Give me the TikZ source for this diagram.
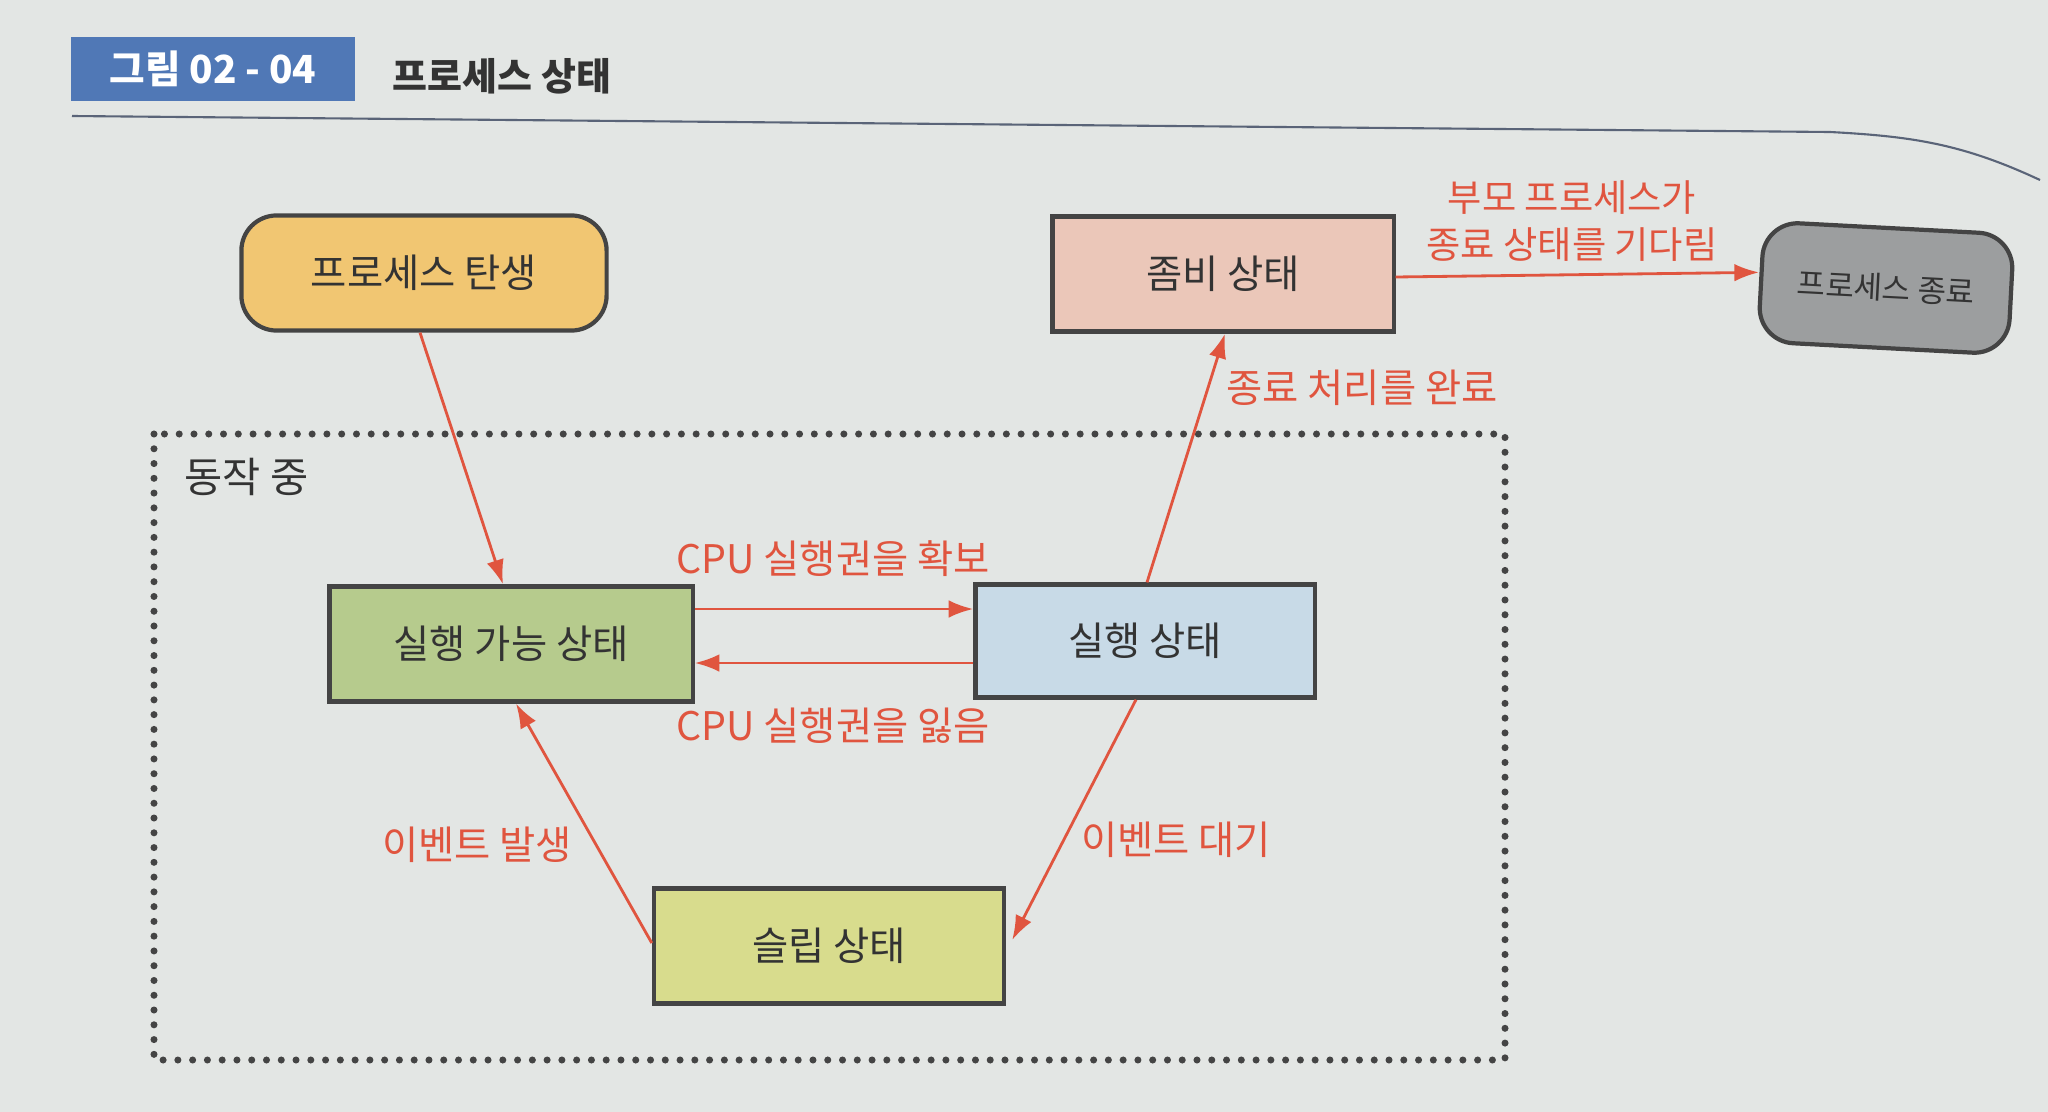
\documentclass[tikz,border=0pt]{standalone}
\usepackage{fontspec}
\setmainfont{Noto Sans CJK KR}
\usetikzlibrary{calc,arrows.meta}
\definecolor{bgc}{HTML}{E3E6E4}
\definecolor{redc}{HTML}{E0553F}
\definecolor{txtc}{HTML}{333333}
\definecolor{edgec}{HTML}{444444}
\definecolor{birthc}{HTML}{F1C672}
\definecolor{zombiec}{HTML}{EBC7B9}
\definecolor{endc}{HTML}{9C9E9F}
\definecolor{runnablec}{HTML}{B6CB8D}
\definecolor{runningc}{HTML}{C8DAE7}
\definecolor{sleepc}{HTML}{D8DC8D}
\definecolor{bluec}{HTML}{5078B6}
\definecolor{rulec}{HTML}{5A6478}
\tikzset{
  statebox/.style={draw=edgec, line width=1.2pt, text=txtc, font=\fontsize{11.2}{13}\selectfont, inner sep=0pt},
  redarrow/.style={draw=redc, line width=0.8pt, -{Latex[length=7pt,width=5pt]}},
  redlabel/.style={text=redc, font=\fontsize{11.2}{13.5}\selectfont, inner sep=0pt, align=center},
}
\begin{document}
\begin{tikzpicture}[x=0.01cm,y=-0.01cm]
\fill[bgc] (0,0) rectangle (2048,1112);
\useasboundingbox (0,0) rectangle (2048,1112);
% title
\node[fill=bluec, minimum width=2.83cm, minimum height=0.63cm, inner sep=0pt, text=white, font=\fontsize{11}{12}\selectfont\bfseries] (tbox) at (213,69) {그림 02 - 04};
\node[anchor=west, text=txtc, font=\fontsize{10.8}{12}\selectfont\bfseries, inner sep=0pt] (title) at (392,76) {프로세스 상태};
\coordinate (hl1) at (72,116);
\coordinate (hl2) at (1830,132);
\coordinate (hl3) at (2040,180);
\draw[rulec, line width=0.6pt] (hl1) -- (hl2) to[out=-3,in=155] (hl3);
% dotted region
\draw[edgec, line width=2pt, line cap=round, dash pattern=on 0pt off 4.2pt] (154,434) rectangle (1505,1060);
\node[anchor=west, text=txtc, font=\fontsize{11.8}{13}\selectfont, inner sep=0pt] (active) at (184,477) {동작 중};
% nodes
\node[statebox, fill=birthc, rounded corners=10pt, minimum width=3.65cm, minimum height=1.15cm] (birth) at (424,273) {프로세스 탄생};
\node[statebox, fill=zombiec, minimum width=3.41cm, minimum height=1.15cm] (zombie) at (1223,274) {좀비 상태};
\node[statebox, fill=endc, rounded corners=10pt, minimum width=2.5cm, minimum height=1.2cm, rotate=-3, font=\fontsize{8.8}{10}\selectfont] (endp) at (1886,288) {프로세스 종료};
\node[statebox, fill=runnablec, minimum width=3.63cm, minimum height=1.15cm] (runnable) at (511,644) {실행 가능 상태};
\node[statebox, fill=runningc, minimum width=3.39cm, minimum height=1.13cm] (running) at (1145,641) {실행 상태};
\node[statebox, fill=sleepc, minimum width=3.5cm, minimum height=1.15cm] (sleep) at (829,946) {슬립 상태};
% arrows
\draw[redarrow] ($(birth.south)+(-4,0)$) -- ($(runnable.north)+(-8,0)$);
\draw[redarrow] ($(runnable.east)+(0,-35)$) -- ($(running.west)+(0,-32)$);
\draw[redarrow] ($(running.west)+(0,22)$) -- ($(runnable.east)+(0,19)$);
\draw[redarrow] ($(running.north)+(2,0)$) -- ($(zombie.south)+(2,0)$);
\draw[redarrow] ($(running.south)+(-9,0)$) -- ($(sleep.east)+(6,-6)$);
\draw[redarrow] ($(sleep.west)+(0,-3)$) -- ($(runnable.south)+(5,0)$);
\draw[redarrow] ($(zombie.east)+(0,3)$) -- ($(endp.west)+(0,-9)$);
% labels
\node[redlabel] (l1) at (833,559) {CPU 실행권을 확보};
\node[redlabel] (l2) at (833,726) {CPU 실행권을 잃음};
\node[redlabel] (l3) at (1362,388) {종료 처리를 완료};
\node[redlabel, font=\fontsize{10.6}{13.2}\selectfont] (l4) at (1572,221) {부모 프로세스가\\종료 상태를 기다림};
\node[redlabel] (l5) at (477,845) {이벤트 발생};
\node[redlabel] (l6) at (1176,840) {이벤트 대기};
\end{tikzpicture}
\end{document}
